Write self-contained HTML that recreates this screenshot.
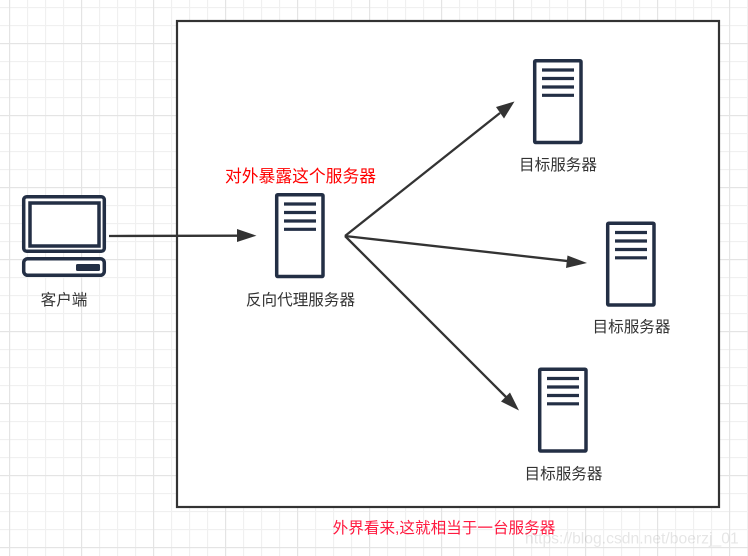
<!DOCTYPE html>
<html><head><meta charset="utf-8">
<style>
html,body{margin:0;padding:0;background:#fff;width:748px;height:556px;overflow:hidden}
svg{display:block}
text{font-family:"Liberation Sans","Noto Sans CJK SC",sans-serif}
</style></head>
<body>
<svg width="748" height="556" viewBox="0 0 748 556" xmlns="http://www.w3.org/2000/svg">
<defs>
<pattern id="minor" width="18" height="18" patternUnits="userSpaceOnUse" x="9" y="7">
<path d="M0.5 0V18M0 0.5H18" stroke="#f0f0f0" stroke-width="1.3" fill="none"/>
</pattern>
<pattern id="major" width="72" height="72" patternUnits="userSpaceOnUse" x="9" y="43">
<path d="M0.5 0V72M0 0.5H72" stroke="#e4e4e4" stroke-width="1.3" fill="none"/>
</pattern>
<g id="srv">
<rect x="1.700" y="1.700" width="46.300" height="81.800" rx="1" fill="#fff" stroke="#232f45" stroke-width="3.500"/>
<path d="M9 11H41M9 19.500H41M9 28H41M9 36.300H41" stroke="#232f45" stroke-width="3.200" fill="none"/>
</g>
</defs>
<rect width="748" height="556" fill="#fff"/>
<rect width="748" height="556" fill="url(#minor)"/>
<rect width="748" height="556" fill="url(#major)"/>

<rect x="177" y="21" width="542" height="486" fill="#fff" stroke="#333" stroke-width="2.200"/>

<!-- laptop -->
<rect x="23.700" y="196.700" width="80.600" height="54.600" rx="3" fill="#fff" stroke="#232f45" stroke-width="3.500"/>
<rect x="30" y="203" width="69" height="43" fill="#fff" stroke="#232f45" stroke-width="3.500"/>
<rect x="23.700" y="258.700" width="80.600" height="16.600" rx="4" fill="#fff" stroke="#232f45" stroke-width="3.500"/>
<rect x="76" y="264" width="24" height="7" rx="1.500" fill="#232f45"/>

<!-- servers -->
<use href="#srv" x="275" y="193"/>
<use href="#srv" x="533" y="59"/>
<use href="#srv" x="606" y="221.500"/>
<use href="#srv" x="538" y="367.500"/>

<!-- connectors -->
<g stroke="#333" stroke-width="2.300" fill="none">
<path d="M109 236L240 235.700"/>
<path d="M345 236L500 113"/>
<path d="M345 236L570 261.300"/>
<path d="M345 236L506 397"/>
</g>
<g fill="#333">
<polygon points="256.500,235.700 237,229 237,242"/>
<polygon points="514.500,101.500 496,107 504,118.500"/>
<polygon points="587,263 567.500,255.500 566,268"/>
<polygon points="519,410.500 510,392.500 501,401.500"/>
</g>

<!-- labels -->
<g font-size="15.600" fill="#333" text-anchor="middle">
<text x="64" y="305">客户端</text>
<text x="300.500" y="305">反向代理服务器</text>
<text x="558" y="170">目标服务器</text>
<text x="631.500" y="332">目标服务器</text>
<text x="563.500" y="479">目标服务器</text>
</g>
<text x="300.500" y="182" font-size="16.800" fill="#ff0000" text-anchor="middle">对外暴露这个服务器</text>
<text x="444" y="533" font-size="15.600" fill="#ff1a40" text-anchor="middle">外界看来,这就相当于一台服务器</text>
<text x="525" y="543.500" font-size="15.700" fill="#000" fill-opacity="0.1">https://blog.csdn.net/boerzj_01</text>
</svg>
</body></html>
